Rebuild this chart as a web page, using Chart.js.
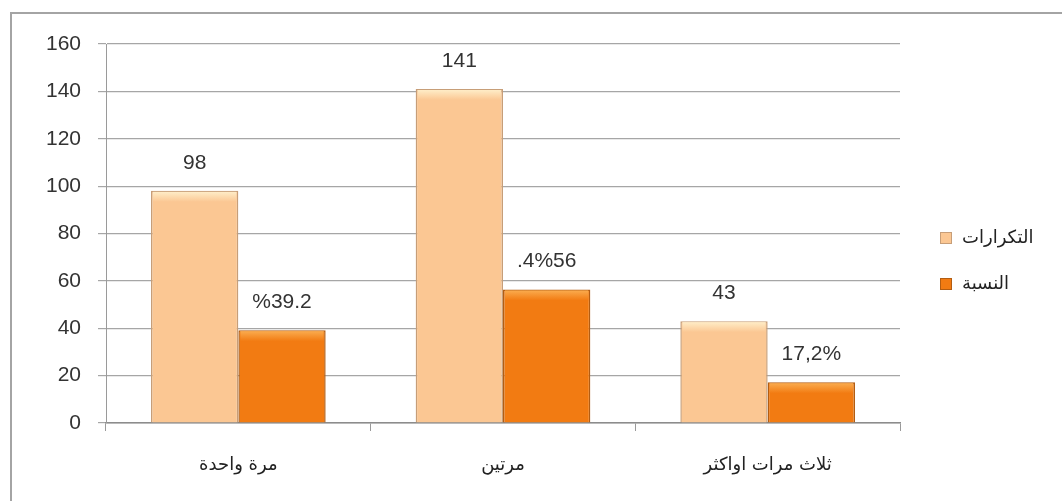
<!DOCTYPE html>
<html>
<head>
<meta charset="utf-8">
<script src="https://cdn.jsdelivr.net/npm/chart.js@4/dist/chart.umd.min.js"></script>
<style>
  html, body { margin: 0; padding: 0; background: #fff; overflow: hidden; }
  #wrap { position: relative; width: 1062px; height: 501px; }
  #frame {
    position: absolute; left: 10px; top: 12px; width: 1100px; height: 600px;
    border-left: 2px solid #a4a4a4; border-top: 2px solid #a4a4a4;
  }
  canvas { position: absolute; left: 0; top: 0; }
</style>
</head>
<body>
<div id="wrap">
  <div id="frame"></div>
  <canvas id="chart" width="1062" height="501"></canvas>
</div>
<script>
/* ── DATA ── */
const categories   = ['مرة واحدة', 'مرتين', 'ثلاث مرات اواكثر'];
const seriesNames  = ['التكرارات', 'النسبة'];
const countValues  = [98, 141, 43];
const countLabels  = ['98', '141', '43'];
const shareValues  = [39.2, 56.4, 17.2];
const shareLabels  = ['%39.2', '.4%56', '17,2%'];
const yMin = 0, yMax = 160, yStep = 20;

/* ── COLOURS ── */
const COLORS = [
  { fill: '#fbc793', top: '#fff0cc', edge: '#c79e78' },
  { fill: '#f27b12', top: '#fbb054', edge: '#b35d12' }
];
const LABEL_FONT  = '"Liberation Sans", Arial, sans-serif';
const ARABIC_FONT = '"DejaVu Sans", sans-serif';

/* ── PLUGINS ── */

// lighter bevel strip on top of each bar + value text above it
const barDecor = {
  id: 'barDecor',
  afterDatasetsDraw(chart) {
    const ctx = chart.ctx;
    chart.data.datasets.forEach((ds, i) => {
      const meta = chart.getDatasetMeta(i);
      meta.data.forEach((bar, j) => {
        const left = bar.x - bar.width / 2;
        const g = ctx.createLinearGradient(0, bar.y, 0, bar.y + 11);
        g.addColorStop(0, ds.topColor);
        g.addColorStop(1, ds.backgroundColor);
        ctx.save();
        ctx.fillStyle = g;
        ctx.fillRect(left + 2, bar.y + 1, bar.width - 4, 10);
        ctx.fillStyle = '#333';
        ctx.font = '21px ' + LABEL_FONT;
        ctx.textAlign = 'center';
        ctx.textBaseline = 'middle';
        ctx.fillText(ds.valueLabels[j], bar.x, bar.y - 28);
        ctx.restore();
      });
    });
  }
};

// legend drawn at the right of the plot
const sideLegend = {
  id: 'sideLegend',
  afterDraw(chart) {
    const ctx = chart.ctx;
    const x = chart.chartArea.right + 40;
    let y = chart.chartArea.top + 194;
    ctx.save();
    chart.data.datasets.forEach(ds => {
      ctx.fillStyle = ds.backgroundColor;
      ctx.strokeStyle = ds.borderColor;
      ctx.fillRect(x, y - 6, 12, 12);
      ctx.strokeRect(x + 0.5, y - 5.5, 11, 11);
      ctx.fillStyle = '#222';
      ctx.font = '18px ' + ARABIC_FONT;
      ctx.textAlign = 'left';
      ctx.textBaseline = 'middle';
      ctx.fillText(ds.label, x + 22, y);
      y += 46;
    });
    ctx.restore();
  }
};

/* ── CHART ── */
new Chart(document.getElementById('chart'), {
  type: 'bar',
  data: {
    labels: categories,
    datasets: [
      {
        label: seriesNames[0], data: countValues, valueLabels: countLabels,
        backgroundColor: COLORS[0].fill, topColor: COLORS[0].top,
        borderColor: COLORS[0].edge, borderWidth: 1.5
      },
      {
        label: seriesNames[1], data: shareValues, valueLabels: shareLabels,
        backgroundColor: COLORS[1].fill, topColor: COLORS[1].top,
        borderColor: COLORS[1].edge, borderWidth: 1.5
      }
    ]
  },
  options: {
    responsive: false,
    animation: false,
    layout: { padding: { left: 0, top: 44, right: 162, bottom: 0 } },
    categoryPercentage: 0.66,
    barPercentage: 1,
    plugins: {
      legend: { display: false },
      tooltip: { enabled: false }
    },
    scales: {
      x: {
        afterFit: s => { s.height = 78; },
        grid: {
          offset: true, drawOnChartArea: false,
          tickLength: 8, color: '#9a9a9a'
        },
        border: { color: '#8c8c8c', width: 1.5 },
        ticks: {
          color: '#222', padding: 24,
          font: { family: ARABIC_FONT, size: 18 }
        }
      },
      y: {
        min: yMin, max: yMax,
        afterFit: s => { s.width = 106; },
        grid: { color: '#a6a6a6', tickLength: 8, lineWidth: 1.2 },
        border: { color: '#9a9a9a' },
        ticks: {
          stepSize: yStep, color: '#333', padding: 17,
          font: { family: LABEL_FONT, size: 21 }
        }
      }
    }
  },
  plugins: [barDecor, sideLegend]
});
</script>
</body>
</html>
